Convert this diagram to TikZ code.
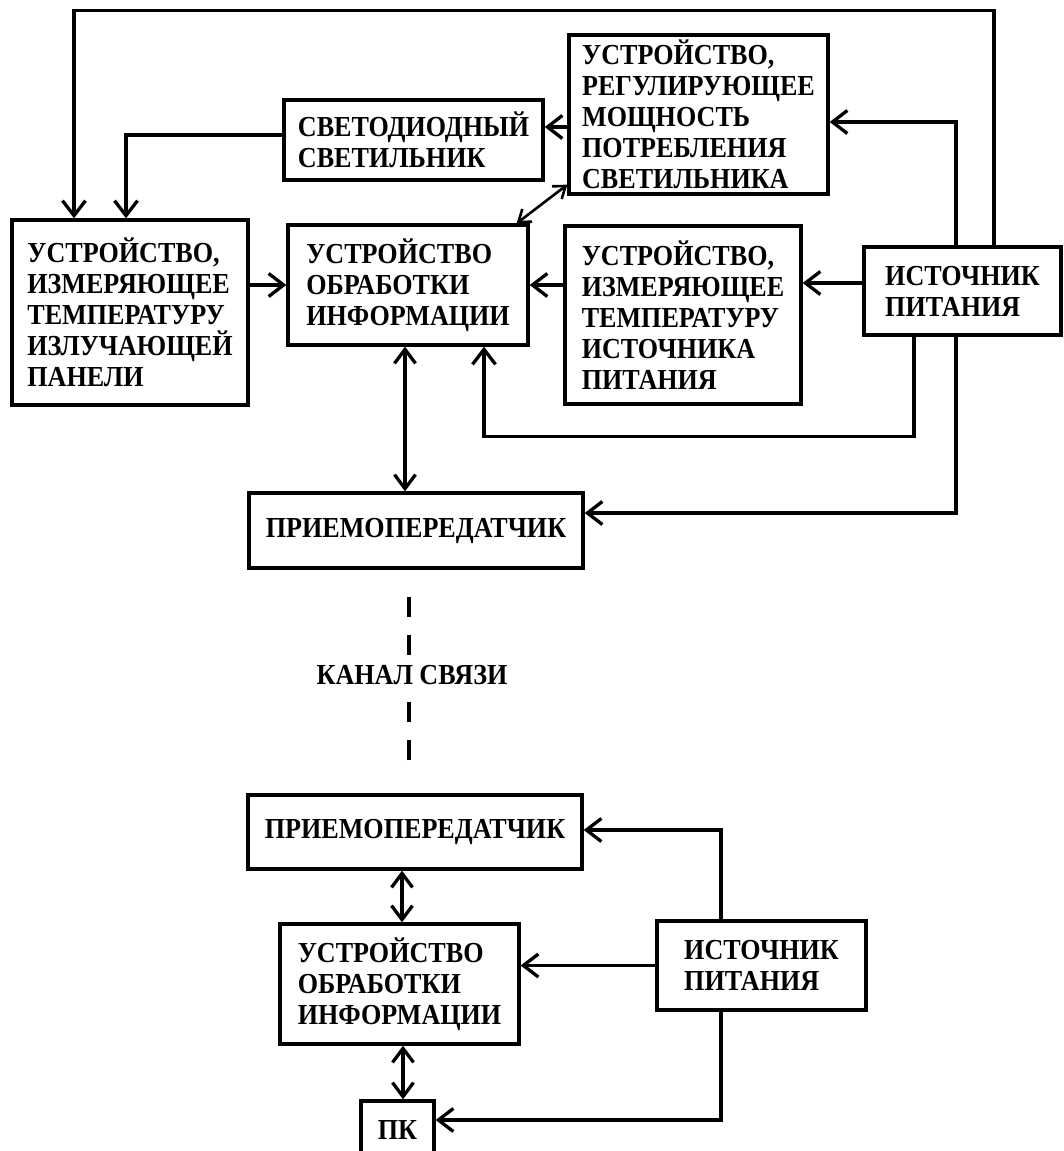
\documentclass[tikz,border=0pt]{standalone}
\usepackage{fontspec}
\setmainfont{Liberation Serif}[FakeStretch=0.9]
\usetikzlibrary{arrows.meta}

\begin{document}
\begin{tikzpicture}[
  x=1pt, y=-1pt,
  txt/.style={font=\fontsize{29}{31}\selectfont\bfseries},
  box/.style={txt, draw, line width=3.3pt, inner sep=0pt, align=left},
  arr/.style={-{Straight Barb[length=15pt,width=23pt]}, line width=3.3pt},
  dbl/.style={{Straight Barb[length=14pt,width=21pt]}-{Straight Barb[length=14pt,width=21pt]}, line width=3.3pt},
  thin dbl/.style={{Straight Barb[length=11pt,width=16pt]}-{Straight Barb[length=11pt,width=16pt]}, line width=2.6pt},
  chanline/.style={line width=3.3pt, dash pattern=on 20pt off 18pt},
]
  \useasboundingbox (0,0) rectangle (1063,1151);

  % lamp side
  \node[box, minimum width=259pt, minimum height=80pt] (led) at (413.5,140) {СВЕТОДИОДНЫЙ\\СВЕТИЛЬНИК};
  \node[box, minimum width=259pt, minimum height=159pt] (reg) at (698.5,114.5) {УСТРОЙСТВО,\\РЕГУЛИРУЮЩЕЕ\\МОЩНОСТЬ\\ПОТРЕБЛЕНИЯ\\СВЕТИЛЬНИКА};
  \node[box, minimum width=236pt, minimum height=185pt] (lpanel) at (130,312.5) {УСТРОЙСТВО,\\ИЗМЕРЯЮЩЕЕ\\ТЕМПЕРАТУРУ\\ИЗЛУЧАЮЩЕЙ\\ПАНЕЛИ};
  \node[box, minimum width=240pt, minimum height=120pt] (proc) at (408,285) {УСТРОЙСТВО\\ОБРАБОТКИ\\ИНФОРМАЦИИ};
  \node[box, minimum width=236pt, minimum height=178pt] (tsrc) at (683,315) {УСТРОЙСТВО,\\ИЗМЕРЯЮЩЕЕ\\ТЕМПЕРАТУРУ\\ИСТОЧНИКА\\ПИТАНИЯ};
  \node[box, minimum width=197pt, minimum height=88pt] (pwr) at (962.5,291) {ИСТОЧНИК\\ПИТАНИЯ};
  \node[box, minimum width=334pt, minimum height=75pt] (trx) at (416,530.5) {ПРИЕМОПЕРЕДАТЧИК};

  \draw[arr] ([xshift=31.5pt]pwr.north) -- ++(0,-235) -| ([xshift=-56pt]lpanel.north);
  \draw[arr] ([yshift=5pt]led.west) -| ([xshift=-4pt]lpanel.north);
  \draw[arr] ([yshift=-12.5pt]reg.west) -- ([yshift=-12.5pt]reg.west -| led.east);
  \draw[arr] ([xshift=-6.5pt]pwr.north) |- ([yshift=-7.5pt]reg.east);
  \draw[thin dbl] ([xshift=-13pt]proc.north east) -- ([yshift=11pt]reg.south west);
  \draw[arr] (lpanel.east |- proc.west) -- (proc.west);
  \draw[arr] (tsrc.west |- proc.east) -- (proc.east);
  \draw[arr] ([yshift=8pt]pwr.west) -- ([yshift=8pt]pwr.west -| tsrc.east);
  \draw[arr] ([xshift=-48.5pt]pwr.south) -- ++(0,100) -| ([xshift=76pt]proc.south);
  \draw[arr] ([xshift=-6.5pt]pwr.south) |- ([yshift=17.5pt]trx.east);
  \draw[dbl] ([xshift=-3pt]proc.south) -- ([xshift=-3pt]proc.south |- trx.north);

  % channel
  \node[txt] (chan) at (412,675) {КАНАЛ СВЯЗИ};
  \coordinate (chtop) at (409,597);
  \coordinate (chbot) at (409,760);
  \draw[chanline] (chtop) -- (chtop |- chan.north);
  \draw[chanline] (chbot) -- (chan.south -| chbot);

  % pc side
  \node[box, minimum width=334pt, minimum height=74pt] (trx2) at (415,832) {ПРИЕМОПЕРЕДАТЧИК};
  \node[box, minimum width=239pt, minimum height=120pt] (proc2) at (399.5,984) {УСТРОЙСТВО\\ОБРАБОТКИ\\ИНФОРМАЦИИ};
  \node[box, minimum width=209pt, minimum height=89pt] (pwr2) at (761.5,965.5) {ИСТОЧНИК\\ПИТАНИЯ};
  \node[box, minimum width=73pt, minimum height=58pt] (pc) at (397.5,1130) {ПК};

  \draw[arr] ([xshift=-40.5pt]pwr2.north) |- ([yshift=2pt]trx2.east);
  \draw[arr] (pwr2.west) -- (pwr2.west -| proc2.east);
  \draw[arr] ([xshift=-40.5pt]pwr2.south) |- ([yshift=10pt]pc.east);
  \draw[dbl] ([xshift=-13pt]trx2.south) -- ([xshift=-13pt]trx2.south |- proc2.north);
  \draw[dbl] ([xshift=5.5pt]pc.north |- proc2.south) -- ([xshift=5.5pt]pc.north);
\end{tikzpicture}
\end{document}
